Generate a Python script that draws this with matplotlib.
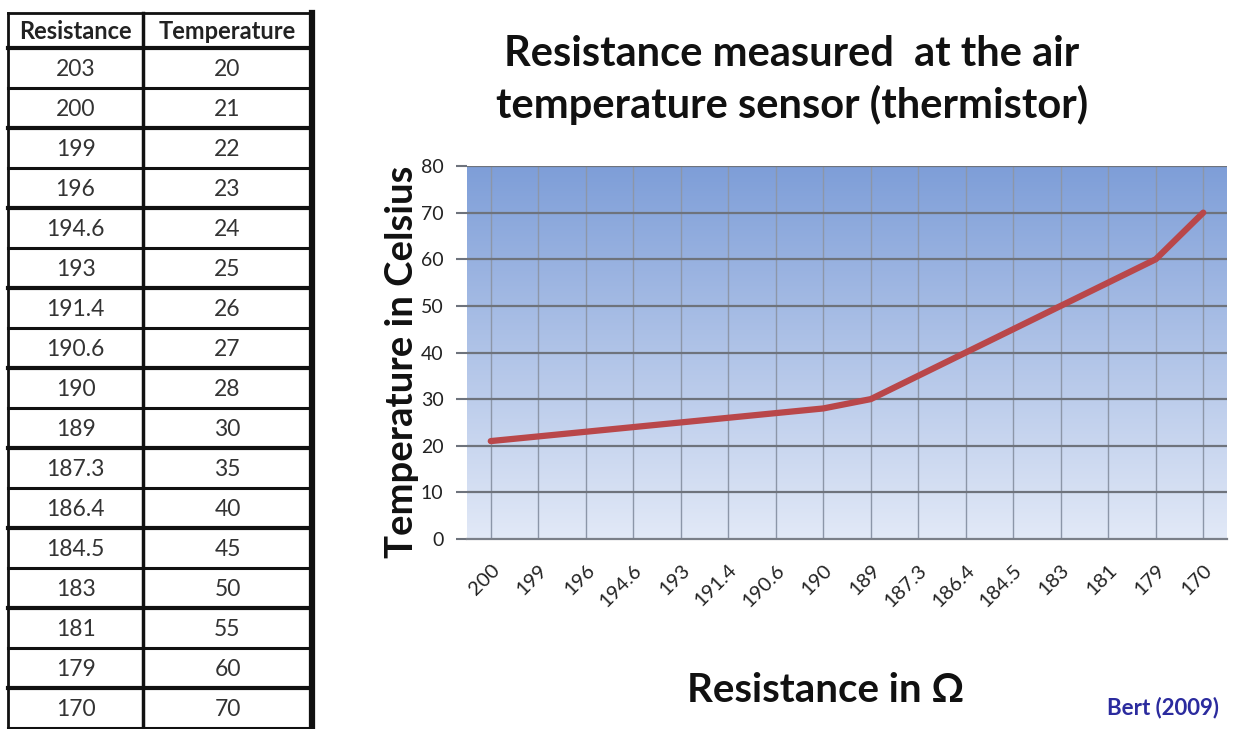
import numpy as np
import matplotlib
matplotlib.use('Agg')
from matplotlib import pyplot as plt

plt.rcParams['font.family'] = ['Lato', 'Open Sans', 'DejaVu Sans']

# table data (first row is not plotted)
table_res = ['203', '200', '199', '196', '194.6', '193', '191.4', '190.6', '190',
             '189', '187.3', '186.4', '184.5', '183', '181', '179', '170']
table_temp = ['20', '21', '22', '23', '24', '25', '26', '27', '28',
              '30', '35', '40', '45', '50', '55', '60', '70']

# plotted series
resistance = ['200', '199', '196', '194.6', '193', '191.4', '190.6', '190',
              '189', '187.3', '186.4', '184.5', '183', '181', '179', '170']
temperature = [21, 22, 23, 24, 25, 26, 27, 28, 30, 35, 40, 45, 50, 55, 60, 70]
y_ticks = [0, 10, 20, 30, 40, 50, 60, 70, 80]

W, H = 1252, 729
fig = plt.figure(figsize=(W / 100, H / 100), dpi=100)
fig.patch.set_facecolor('white')

# ---- table on the left, drawn in pixel units ----
tab = fig.add_axes([0, 0, 1, 1])
tab.set_xlim(0, W)
tab.set_ylim(H, 0)
tab.axis('off')
x_left, x_mid, x_right = 8, 143, 312
head_top, head_bot, row_h = 13, 48, 40
n = len(table_res)
y_bottom = head_bot + n * row_h
tab.plot([x_left, x_left], [head_top, y_bottom], color='#111111', lw=2)
tab.plot([x_mid, x_mid], [head_top, y_bottom], color='#111111', lw=2.5)
tab.plot([x_right, x_right], [head_top, y_bottom], color='#111111', lw=4.5)
tab.plot([x_left, x_right], [head_top, head_top], color='#111111', lw=2)
for i in range(n + 1):
    yy = head_bot + i * row_h
    tab.plot([x_left, x_right], [yy, yy], color='#111111', lw=3 if i % 2 == 0 else 2.2)
tab.text((x_left + x_mid) / 2, (head_top + head_bot) / 2 + 1, 'Resistance',
         ha='center', va='center', fontsize=17, fontweight='bold', color='#222222')
tab.text((x_mid + x_right) / 2, (head_top + head_bot) / 2 + 1, 'Temperature',
         ha='center', va='center', fontsize=17, fontweight='bold', color='#222222')
for i, (r, t) in enumerate(zip(table_res, table_temp)):
    yc = head_bot + (i + 0.5) * row_h + 1
    tab.text((x_left + x_mid) / 2, yc, r, ha='center', va='center',
             fontsize=16.5, color='#333333')
    tab.text((x_mid + x_right) / 2, yc, t, ha='center', va='center',
             fontsize=16.5, color='#333333')

# ---- line chart ----
ax = fig.add_axes([467 / W, 1 - 539 / H, (1227 - 467) / W, (539 - 166) / H])
x = np.arange(len(resistance))
ax.set_xlim(-0.5, len(resistance) - 0.5)
ax.set_ylim(0, 80)

# blue gradient fill behind the plot
grad = np.linspace(0, 1, 256).reshape(-1, 1)
top_c = np.array([0x7e, 0x9e, 0xd8]) / 255
bot_c = np.array([0xe2, 0xe9, 0xf7]) / 255
img = top_c * (1 - grad[..., None]) + bot_c * grad[..., None]
img = np.repeat(img, 2, axis=1)
ax.imshow(img, extent=[-0.5, len(resistance) - 0.5, 0, 80], aspect='auto',
          zorder=0, interpolation='bilinear')

for xi in x:
    ax.axvline(xi, color='#8c96a8', lw=1, zorder=1)
for yv in y_ticks[1:]:
    ax.axhline(yv, color='#6e737c', lw=1.6, zorder=1)

ax.plot(x, temperature, color='#b9474a', lw=4.5, solid_capstyle='round',
        solid_joinstyle='round', zorder=3)

ax.set_xticks(x)
ax.set_xticklabels(resistance, rotation=45, ha='right', rotation_mode='anchor',
                   fontsize=14.5, color='#222222')
ax.set_yticks(y_ticks)
ax.set_yticklabels([str(v) for v in y_ticks], fontsize=14, color='#222222')
ax.tick_params(axis='x', length=0, pad=16)
ax.tick_params(axis='y', length=8, width=1.5, color='#6e737c', pad=9)
for side in ['top', 'right', 'left']:
    ax.spines[side].set_visible(False)
ax.spines['bottom'].set_color('#7a7f88')
ax.spines['bottom'].set_linewidth(1.6)

fig.text(792 / W, 1 - 80 / H,
         'Resistance measured  at the air\ntemperature sensor (thermistor)',
         ha='center', va='center', fontsize=30, fontweight='bold',
         color='#111111', linespacing=1.38)
fig.text(402 / W, 1 - 362 / H, 'Temperature in Celsius', rotation=90,
         ha='center', va='center', fontsize=27.5, fontweight='bold', color='#111111')
fig.text(826 / W, 1 - 690 / H, 'Resistance in Ω', ha='center', va='center',
         fontsize=29, fontweight='bold', color='#111111')
fig.text(1163 / W, 1 - 708 / H, 'Bert (2009)', ha='center', va='center',
         fontsize=16, fontweight='bold', color='#2b2b9e')

fig.savefig('out.png', dpi=100)
